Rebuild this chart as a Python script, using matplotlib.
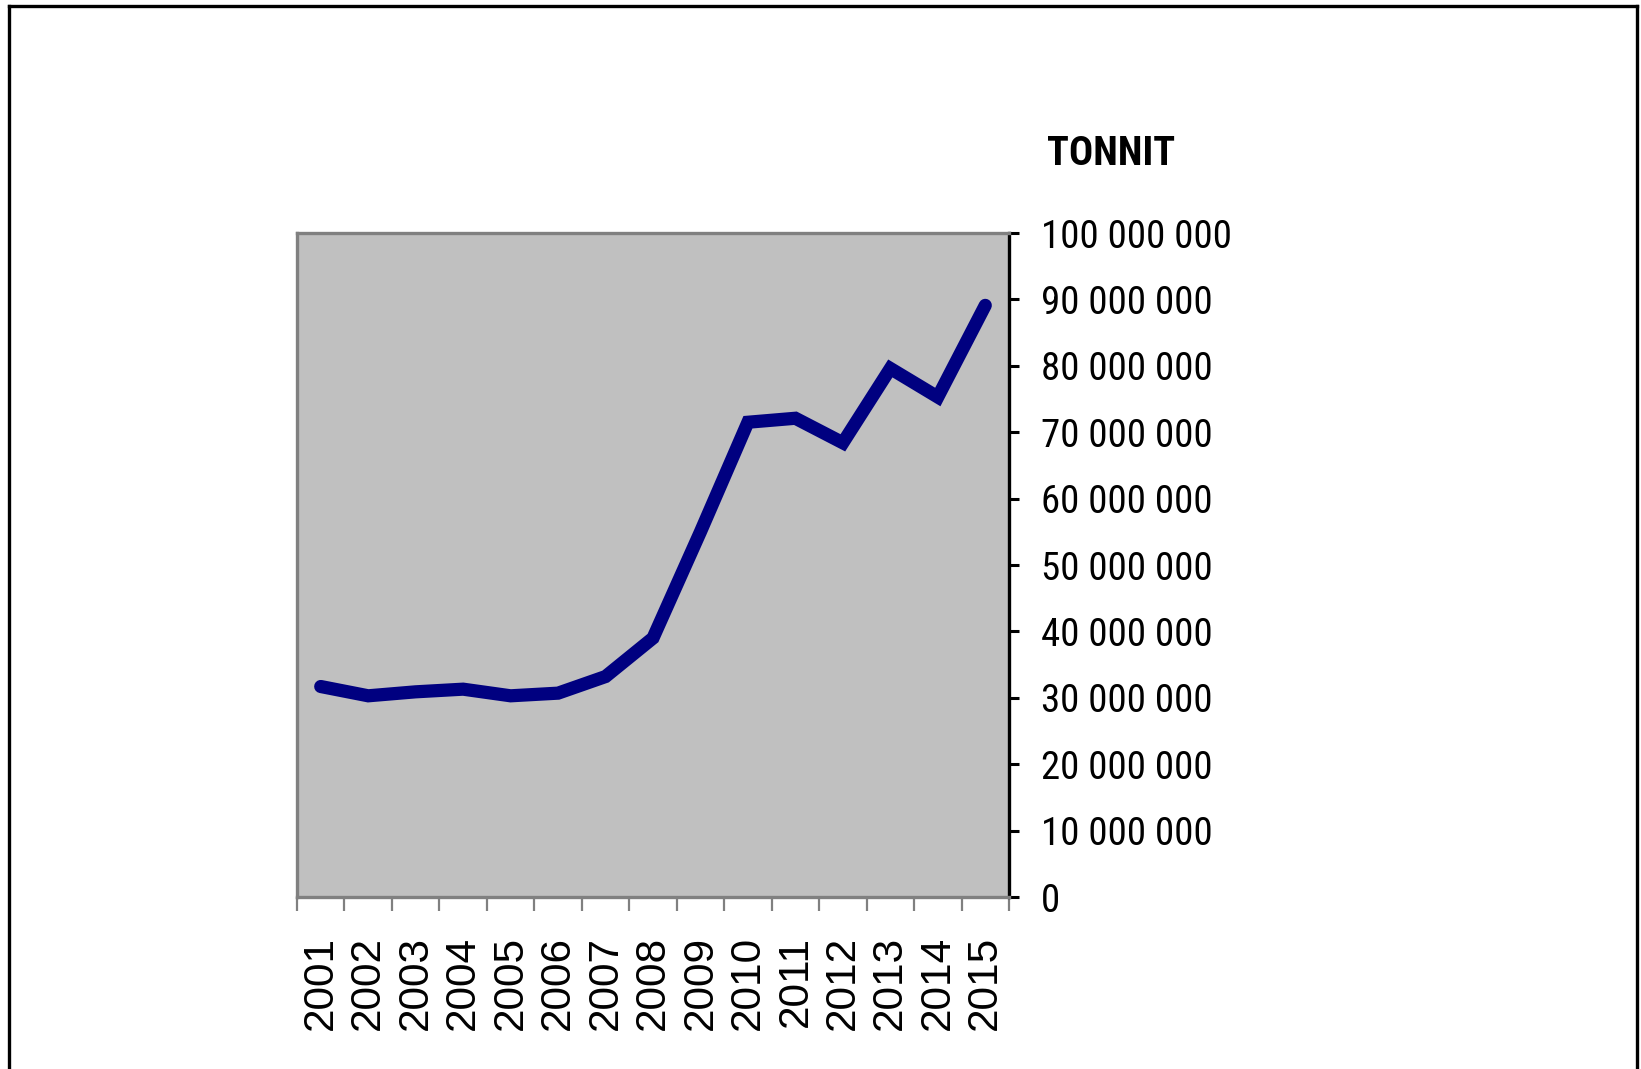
import matplotlib
matplotlib.use("Agg")
import matplotlib.pyplot as plt
from matplotlib.lines import Line2D

# data (tonnes)
years = ['2001', '2002', '2003', '2004', '2005', '2006', '2007', '2008',
         '2009', '2010', '2011', '2012', '2013', '2014', '2015']
tonnit = [31.7e6, 30.3e6, 30.9e6, 31.3e6, 30.3e6, 30.7e6, 33.2e6, 39.0e6,
          55.0e6, 71.5e6, 72.1e6, 68.4e6, 79.6e6, 75.3e6, 89.1e6]
y_ticks = [0, 10e6, 20e6, 30e6, 40e6, 50e6, 60e6, 70e6, 80e6, 90e6, 100e6]
y_labels = ['0', '10 000 000', '20 000 000', '30 000 000', '40 000 000',
            '50 000 000', '60 000 000', '70 000 000', '80 000 000',
            '90 000 000', '100 000 000']

narrow = ['Roboto Condensed', 'DejaVu Sans']

W, H = 1641, 1069
fig = plt.figure(figsize=(W / 100, H / 100), dpi=100)
fig.patch.set_facecolor('white')

# plot area in pixel terms
left, right, top, bottom = 297, 1009, 233, 897
ax = fig.add_axes([left / W, 1 - bottom / H, (right - left) / W, (bottom - top) / H])
ax.set_facecolor('#C0C0C0')

x = list(range(len(years)))
ax.plot(x, tonnit, color='#000080', linewidth=9.5,
        solid_capstyle='round', solid_joinstyle='miter')

ax.set_xlim(-0.5, len(years) - 0.5)
ax.set_ylim(0, 100e6)

# y axis on the right, black
ax.yaxis.tick_right()
ax.set_yticks(y_ticks)
ax.set_yticklabels(y_labels, family=narrow, fontsize=28)
ax.tick_params(axis='y', which='major', direction='out', length=7.2, width=2.2,
               color='black', pad=16)
for lab in ax.get_yticklabels():
    lab.set_horizontalalignment('left')

# x axis: labels at category centres, grey tick marks between categories
ax.set_xticks(x)
ax.set_xticklabels(years, rotation=90, family=['Liberation Sans', 'DejaVu Sans'],
                   fontsize=30.5)
ax.set_xticks([i - 0.5 for i in range(len(years) + 1)], minor=True)
ax.tick_params(axis='x', which='major', length=0, pad=28)
ax.tick_params(axis='x', which='minor', direction='out', length=10, width=1.6,
               color='#808080')

for side in ['left', 'top', 'bottom']:
    ax.spines[side].set_color('#808080')
    ax.spines[side].set_linewidth(2.4)
ax.spines['right'].set_color('black')
ax.spines['right'].set_linewidth(2.4)

# title above the value axis
fig.text(1047 / W, 1 - 165 / H, 'TONNIT', family=narrow, fontweight='bold',
         fontsize=29, ha='left', va='baseline')

# chart frame (left, top, right only)
bx0, bx1, by0 = 9 / W, 1637 / W, 1 - 6 / H
for xs, ys in [([bx0, bx0], [0, by0]), ([bx0, bx1], [by0, by0]), ([bx1, bx1], [by0, 0])]:
    fig.add_artist(Line2D(xs, ys, color='black', linewidth=2.4,
                          transform=fig.transFigure, solid_capstyle='projecting'))

fig.savefig('out.png', dpi=100)
